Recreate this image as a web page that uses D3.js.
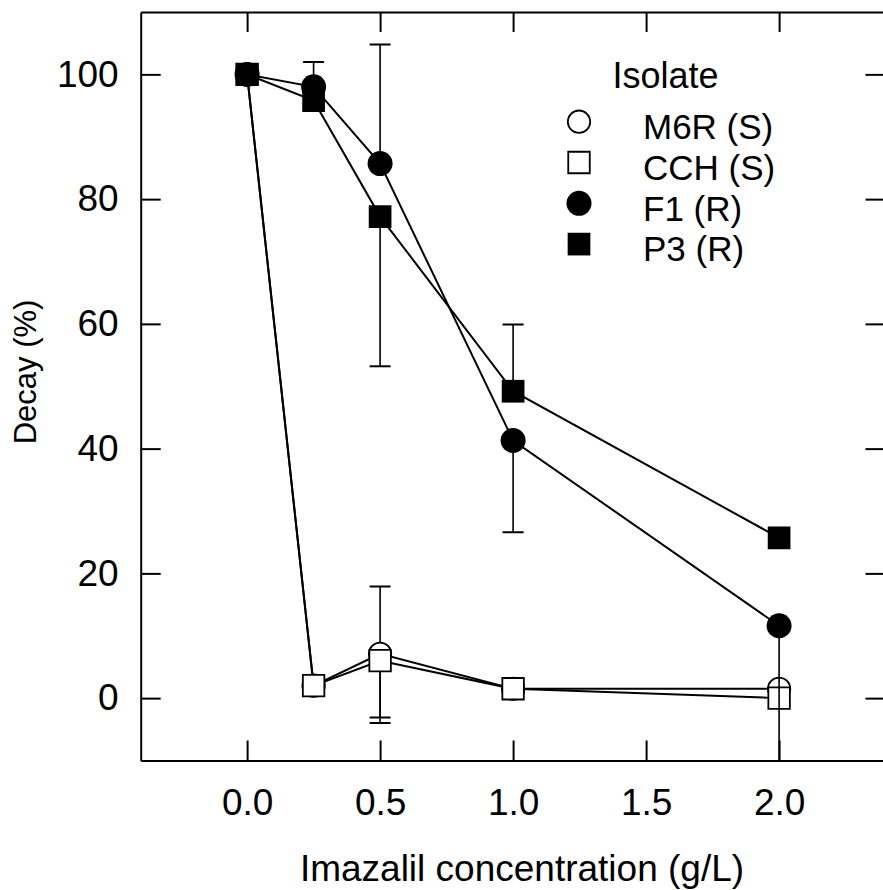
<!DOCTYPE html>
<html>
<head>
<meta charset="utf-8">
<script src="https://cdn.jsdelivr.net/npm/d3@7"></script>
<style>
  body { margin: 0; background: #fff; }
  svg { display: block; font-family: "Liberation Sans", Arial, sans-serif; }
</style>
</head>
<body>
<svg id="chart" width="883" height="890"></svg>
<script>
// concentrations (g/L)
var conc = [0, 0.25, 0.5, 1.0, 2.0];

// decay (%) for each isolate
var m6r = [100, 2.0, 7.1, 1.5, 1.5];
var cch = [100, 2.0, 6.0, 1.5, 0.0];
var f1  = [100, 98.0, 85.7, 41.3, 11.6];
var p3  = [100, 95.8, 77.2, 49.2, 25.7];

// error bar lengths drawn above / below each point (0 = none shown)
var m6rUp = [0, 0, 10.8, 0, 0],  m6rDown = [0, 0, 10.2, 0, 0];
var cchUp = [0, 0, 0, 0, 0],     cchDown = [0, 0, 10.0, 0, 0];
var f1Up  = [0, 4.0, 19.1, 0, 0], f1Down = [0, 0, 0, 14.7, 25.0];
var p3Up  = [0, 0, 0, 10.7, 0],  p3Down  = [0, 0, 24.0, 0, 0];

var xTicks = [0, 0.5, 1.0, 1.5, 2.0];
var yTicks = [0, 20, 40, 60, 80, 100];

var series = [
  { name: "M6R (S)", values: m6r, up: m6rUp, down: m6rDown, shape: "circle", filled: false },
  { name: "CCH (S)", values: cch, up: cchUp, down: cchDown, shape: "square", filled: false },
  { name: "F1 (R)",  values: f1,  up: f1Up,  down: f1Down,  shape: "circle", filled: true },
  { name: "P3 (R)",  values: p3,  up: p3Up,  down: p3Down,  shape: "square", filled: true }
];

var svg = d3.select("#chart");

var plotL = 140.7, plotR = 885.5, plotT = 12, plotB = 760.5;
var font = "'Liberation Sans', Arial, sans-serif";

var x = d3.scaleLinear().domain([-0.4, 2.4]).range([plotL, plotR]);
var y = d3.scaleLinear().domain([-10, 110]).range([plotB, plotT]);

svg.append("defs").append("clipPath")
  .attr("id", "plot")
  .append("rect")
  .attr("x", plotL).attr("y", plotT)
  .attr("width", plotR - plotL).attr("height", plotB - plotT);

// axes on all four sides, ticks pointing in
function styleAxis(g) {
  g.attr("font-family", font);
  g.selectAll(".domain").attr("stroke", "#000").attr("stroke-width", 2);
  g.selectAll(".tick line").attr("stroke", "#000").attr("stroke-width", 2);
  g.selectAll(".tick text").attr("fill", "#000").attr("font-size", 37);
}

svg.append("g")
  .attr("transform", "translate(0," + plotB + ")")
  .call(d3.axisBottom(x).tickValues(xTicks).tickFormat(d3.format(".1f"))
    .tickSizeInner(-20).tickSizeOuter(0).tickPadding(28))
  .call(styleAxis);

svg.append("g")
  .attr("transform", "translate(0," + plotT + ")")
  .call(d3.axisTop(x).tickValues(xTicks).tickFormat("")
    .tickSizeInner(-20).tickSizeOuter(0))
  .call(styleAxis);

svg.append("g")
  .attr("transform", "translate(" + plotL + ",0)")
  .call(d3.axisLeft(y).tickValues(yTicks)
    .tickSizeInner(-20).tickSizeOuter(0).tickPadding(22))
  .call(styleAxis);

svg.append("g")
  .attr("transform", "translate(" + plotR + ",0)")
  .call(d3.axisRight(y).tickValues(yTicks).tickFormat("")
    .tickSizeInner(-20).tickSizeOuter(0))
  .call(styleAxis);

// axis titles
svg.append("text")
  .attr("x", 522)
  .attr("y", 881)
  .attr("text-anchor", "middle")
  .attr("font-size", 37)
  .text("Imazalil concentration (g/L)");

svg.append("text")
  .attr("transform", "translate(36,372) rotate(-90)")
  .attr("text-anchor", "middle")
  .attr("font-size", 31)
  .text("Decay (%)");

function symbolPath(s) {
  if (s.shape === "circle") {
    var r = s.filled ? 12.5 : 11.2;
    return d3.symbol().type(d3.symbolCircle).size(Math.PI * r * r)();
  }
  var side = s.filled ? 22.7 : 21.5;
  return d3.symbol().type(d3.symbolSquare).size(side * side)();
}

var line = d3.line()
  .x(function(d) { return x(d[0]); })
  .y(function(d) { return y(d[1]); });

var plot = svg.append("g").attr("clip-path", "url(#plot)");

series.forEach(function(s) {
  var pts = conc.map(function(c, i) { return [c, s.values[i], s.up[i], s.down[i]]; });
  var g = plot.append("g");

  g.append("path")
    .datum(pts)
    .attr("d", line)
    .attr("fill", "none")
    .attr("stroke", "#000")
    .attr("stroke-width", 2);

  // error bars
  pts.forEach(function(p) {
    var cx = x(p[0]);
    [[p[2], 1], [p[3], -1]].forEach(function(e) {
      if (e[0] <= 0) return;
      var end = y(p[1] + e[1] * e[0]);
      g.append("line")
        .attr("x1", cx).attr("x2", cx)
        .attr("y1", y(p[1])).attr("y2", end)
        .attr("stroke", "#000").attr("stroke-width", 1.6);
      g.append("line")
        .attr("x1", cx - 10.5).attr("x2", cx + 10.5)
        .attr("y1", end).attr("y2", end)
        .attr("stroke", "#000").attr("stroke-width", 2);
    });
  });

  g.selectAll("path.marker")
    .data(pts)
    .enter()
    .append("path")
    .attr("class", "marker")
    .attr("transform", function(p) { return "translate(" + x(p[0]) + "," + y(p[1]) + ")"; })
    .attr("d", symbolPath(s))
    .attr("fill", s.filled ? "#000" : "#fff")
    .attr("stroke", "#000")
    .attr("stroke-width", s.filled ? 0 : 1.8);
});

// legend
var legend = svg.append("g");

legend.append("text")
  .attr("x", 612.5)
  .attr("y", 88)
  .attr("font-size", 36)
  .text("Isolate");

var rows = legend.selectAll("g.row")
  .data(series)
  .enter()
  .append("g")
  .attr("class", "row")
  .attr("transform", function(s, i) { return "translate(0," + (i * 40.8) + ")"; });

rows.append("path")
  .attr("transform", "translate(579,121.7)")
  .attr("d", function(s) { return symbolPath(s); })
  .attr("fill", function(s) { return s.filled ? "#000" : "#fff"; })
  .attr("stroke", "#000")
  .attr("stroke-width", function(s) { return s.filled ? 0 : 1.8; });

rows.append("text")
  .attr("x", 643)
  .attr("y", 139)
  .attr("font-size", 35)
  .text(function(s) { return s.name; });
</script>
</body>
</html>
